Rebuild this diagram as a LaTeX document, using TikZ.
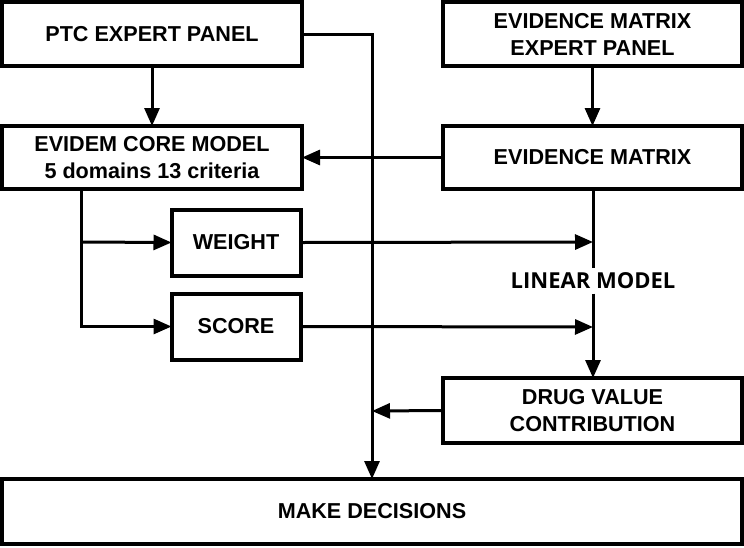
\documentclass[tikz,border=0pt]{standalone}
\usepackage{fontspec}
\setmainfont{Liberation Sans}
\newfontfamily\lmfont{Open Sans}
\usetikzlibrary{arrows.meta}
\begin{document}
\begin{tikzpicture}[x=1pt,y=-1pt,
  box/.style={draw=black, line width=4pt, rectangle, inner sep=0pt, outer sep=0pt,
    align=center, font=\fontsize{21.6}{27}\selectfont\bfseries},
  conn/.style={draw=black, line width=3pt},
  arr/.style={conn, -{Triangle[length=18pt,width=15pt]}}]
\useasboundingbox (0,0) rectangle (744,547);
\fill[white] (0,0) rectangle (744,547);
\node[box, minimum width=300pt, minimum height=64pt] (ptc) at (152,34) {PTC EXPERT PANEL};
\node[box, minimum width=300pt, minimum height=63pt] (core) at (152,157.5) {EVIDEM CORE MODEL\\5 domains 13 criteria};
\node[box, minimum width=299pt, minimum height=64pt] (emep) at (592.5,34) {EVIDENCE MATRIX\\EXPERT PANEL};
\node[box, minimum width=299pt, minimum height=63pt] (em) at (592.5,157.5) {EVIDENCE MATRIX};
\node[box, minimum width=129pt, minimum height=66pt] (weight) at (236,242.5) {WEIGHT};
\node[box, minimum width=129pt, minimum height=66pt] (score) at (236,326.5) {SCORE};
\node[box, minimum width=299pt, minimum height=65pt] (drug) at (592.5,410.5) {DRUG VALUE\\CONTRIBUTION};
\node[box, minimum width=740pt, minimum height=65pt] (make) at (372,511.5) {MAKE DECISIONS};
\node[inner sep=0pt, outer sep=0pt, minimum height=26pt, font=\lmfont\fontsize{22}{25}\selectfont\bfseries] (lm) at (593,280.5) {LINEAR MODEL};
\coordinate (wt) at (593,242);
\coordinate (st) at (593,327);
\coordinate (dt) at (372,411);
\coordinate (br) at (81,242);
% connectors
\draw[arr] (ptc.south) -- (core.north);
\draw[arr] (emep.south -| em.north) -- (em.north);
\draw[arr] (em.west) -- (core.east);
\draw[arr] (ptc.east) -| (make.north);
\draw[arr] (core.south -| br) |- (score.west);
\draw[arr] (br) -- (weight.west);
\draw[arr] (weight.east) -- (wt);
\draw[arr] (score.east) -- (st);
\draw[conn] (em.south -| lm.north) -- (lm.north);
\draw[arr] (lm.south) -- (drug.north -| lm.south);
\draw[arr] (drug.west) -- (dt);
\end{tikzpicture}
\end{document}
